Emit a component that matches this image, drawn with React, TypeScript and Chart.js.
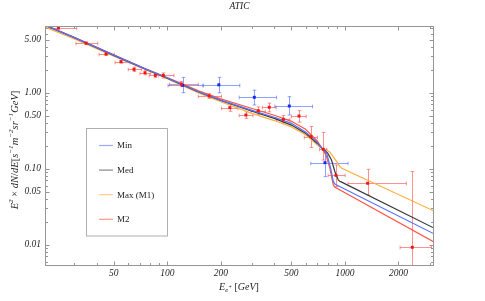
import React, { useEffect, useRef } from 'react';
import { Chart, registerables } from 'chart.js';

Chart.register(...registerables);

// ---------- text ----------
const titleText = 'ATIC';
const legendLabels = ['Min', 'Med', 'Max (M1)', 'M2'];

// ---------- axes ----------
const xMin = 20.5;
const xMax = 3130;
const xMajorTicks = [50, 100, 200, 500, 1000, 2000];
const xTickLabels = ['50', '100', '200', '500', '1000', '2000'];
const xMinorTicks = [30, 40, 60, 70, 80, 90, 300, 400, 600, 700, 800, 900, 3000];

const yMin = 0.0054;
const yMax = 7.55;
const yMajorTicks = [0.01, 0.05, 0.1, 0.5, 1, 5];
const yTickLabels = ['0.01', '0.05', '0.10', '0.50', '1.00', '5.00'];
const yMinorTicks = [0.006, 0.007, 0.008, 0.009, 0.02, 0.03, 0.04, 0.06, 0.07, 0.08, 0.09, 0.2, 0.3, 0.4, 0.6, 0.7, 0.8, 0.9, 2, 3, 4, 6, 7];

// ---------- model curves ----------
const minE = [20.5, 30, 50, 75, 100, 150, 200, 300, 400, 500, 600, 700, 740, 790, 831, 860, 880, 898, 3130];
const minF = [7.75, 5.3, 3.12, 2.06, 1.56, 1.03, 0.8, 0.585, 0.475, 0.395, 0.305, 0.222, 0.187, 0.158, 0.101, 0.0675, 0.0625, 0.061, 0.0141];

const medE = [20.5, 30, 50, 75, 100, 150, 200, 300, 400, 500, 600, 700, 740, 800, 840, 878, 917, 935, 946, 3130];
const medF = [7.7, 5.28, 3.1, 2.05, 1.55, 1.02, 0.79, 0.57, 0.46, 0.375, 0.292, 0.215, 0.188, 0.16, 0.13, 0.0913, 0.0712, 0.0685, 0.0675, 0.0168];

const maxE = [20.5, 30, 50, 75, 100, 150, 200, 300, 400, 500, 600, 700, 740, 790, 823, 860, 898, 937, 960, 3130];
const maxF = [7.3, 5.1, 3.03, 2.02, 1.53, 0.99, 0.76, 0.535, 0.43, 0.355, 0.28, 0.205, 0.186, 0.175, 0.165, 0.143, 0.124, 0.1065, 0.101, 0.0281];

const m2E = [20.5, 30, 50, 75, 100, 150, 200, 300, 400, 500, 600, 700, 740, 782, 823, 860, 876, 890, 3130];
const m2F = [7.8, 5.35, 3.15, 2.08, 1.58, 1.06, 0.83, 0.62, 0.505, 0.42, 0.33, 0.23, 0.187, 0.151, 0.101, 0.061, 0.0575, 0.056, 0.011];

// ---------- ATIC data (red) ----------
const aticE = [24.4, 34.9, 45.2, 54.9, 65.0, 74.9, 85.6, 95, 120, 172, 225, 277, 325, 375, 450, 551, 644, 755, 890, 1342, 2393];
const aticF = [7.17, 4.47, 3.23, 2.56, 2.03, 1.83, 1.69, 1.69, 1.3, 0.905, 0.635, 0.509, 0.58, 0.643, 0.447, 0.493, 0.264, 0.18, 0.0818, 0.0643, 0.00924];
const aticELo = [20, 30.6, 41.3, 50.8, 60.3, 70.2, 79.2, 89, 103, 149.5, 202, 254, 296, 343, 412, 500, 590, 720, 804, 1040, 2044];
const aticEHi = [30.9, 40.6, 50.3, 61.7, 71.7, 80.6, 95, 109, 149.5, 202, 250, 304, 356, 410, 490, 605, 700, 790, 1002, 2217, 3070];
const aticFLo = [6.8, 4.3, 3.1, 2.45, 1.9, 1.72, 1.58, 1.56, 1.2, 0.84, 0.57, 0.46, 0.52, 0.56, 0.4, 0.41, 0.19, 0.13, 0.058, 0.045, 0.004];
const aticFHi = [7.6, 4.65, 3.37, 2.68, 2.17, 1.95, 1.8, 1.82, 1.4, 0.97, 0.71, 0.56, 0.65, 0.73, 0.5, 0.58, 0.36, 0.3, 0.112, 0.098, 0.0916];

// ---------- second data set (blue) ----------
const blueE = [122, 195, 309, 486, 772];
const blueF = [1.25, 1.27, 0.87, 0.668, 0.12];
const blueELo = [101, 159, 254, 403, 642];
const blueEHi = [159, 256, 412, 657, 1041];
const blueFLo = [1.0, 1.0, 0.69, 0.509, 0.0787];
const blueFHi = [1.59, 1.59, 1.08, 0.886, 0.18];

const COL_MIN = 'rgb(85,115,255)';
const COL_MED = 'rgb(55,55,55)';
const COL_MAX = 'rgb(255,172,60)';
const COL_M2 = 'rgb(255,85,65)';

const SERIF = '"Liberation Serif", "DejaVu Serif", serif';

const toPts = (E: number[], F: number[]) => E.map((x, i) => ({ x, y: F[i] }));

const lineDs = (label: string, E: number[], F: number[], color: string) => ({
  type: 'line',
  label,
  data: toPts(E, F),
  borderColor: color,
  backgroundColor: color,
  borderWidth: 1.2,
  pointRadius: 0,
  fill: false,
  tension: 0,
  clip: 0,
  inLegend: true,
  order: 2,
});

const pointDs = (label: string, E: number[], F: number[], eLo: number[], eHi: number[], fLo: number[], fHi: number[], color: string, errColor: string) => ({
  type: 'scatter',
  label,
  data: toPts(E, F),
  pointStyle: 'rect',
  pointRadius: 2.1,
  borderWidth: 0,
  backgroundColor: color,
  showLine: false,
  errors: { eLo, eHi, fLo, fHi },
  errColor,
  order: 0,
});

type Seg = { t: string; mode?: 'sup' | 'sub' | 'subsup'; italic?: boolean };

function drawSegs(ctx: CanvasRenderingContext2D, segs: Seg[], x: number, y: number, size: number, measureOnly: boolean): number {
  let cx = x;
  for (const s of segs) {
    let fs = size;
    let dy = 0;
    if (s.mode === 'sup') { fs = size * 0.68; dy = -size * 0.42; }
    if (s.mode === 'sub') { fs = size * 0.68; dy = size * 0.25; }
    if (s.mode === 'subsup') { fs = size * 0.55; dy = -size * 0.05; }
    ctx.font = `${s.italic === false ? '' : 'italic '}${fs}px ${SERIF}`;
    if (!measureOnly) ctx.fillText(s.t, cx, y + dy);
    cx += ctx.measureText(s.t).width;
  }
  return cx - x;
}

const decorPlugin = {
  id: 'decor',
  beforeDatasetsDraw(chart: any) {
    const { ctx, chartArea: a, scales } = chart;
    const xs = scales.x;
    const ys = scales.y;
    ctx.save();
    ctx.beginPath();
    ctx.rect(a.left, a.top, a.right - a.left, a.bottom - a.top);
    ctx.clip();
    ctx.lineWidth = 1;
    chart.data.datasets.forEach((ds: any) => {
      if (!ds.errors) return;
      ctx.strokeStyle = ds.errColor;
      const er = ds.errors;
      ds.data.forEach((p: any, i: number) => {
        const px = Math.round(xs.getPixelForValue(p.x)) + 0.5;
        const py = Math.round(ys.getPixelForValue(p.y)) + 0.5;
        const x1 = xs.getPixelForValue(er.eLo[i]);
        const x2 = xs.getPixelForValue(er.eHi[i]);
        const y1 = ys.getPixelForValue(er.fLo[i]);
        const y2 = ys.getPixelForValue(er.fHi[i]);
        const c = 1.8;
        ctx.beginPath();
        ctx.moveTo(x1, py); ctx.lineTo(x2, py);
        ctx.moveTo(px, y1); ctx.lineTo(px, y2);
        ctx.moveTo(x1, py - c); ctx.lineTo(x1, py + c);
        ctx.moveTo(x2, py - c); ctx.lineTo(x2, py + c);
        ctx.moveTo(px - c, y1); ctx.lineTo(px + c, y1);
        ctx.moveTo(px - c, y2); ctx.lineTo(px + c, y2);
        ctx.stroke();
      });
    });
    ctx.restore();
  },
  afterDraw(chart: any) {
    const { ctx, chartArea: a, scales } = chart;
    const xs = scales.x;
    const ys = scales.y;
    ctx.save();
    // frame
    ctx.strokeStyle = 'rgb(150,150,150)';
    ctx.lineWidth = 1;
    const L = Math.round(a.left) + 0.5;
    const R = Math.round(a.right) + 0.5;
    const T = Math.round(a.top) + 0.5;
    const B = Math.round(a.bottom) + 0.5;
    ctx.strokeRect(L, T, R - L, B - T);
    ctx.beginPath();
    const xt = (v: number, len: number) => {
      const p = Math.round(xs.getPixelForValue(v)) + 0.5;
      ctx.moveTo(p, B); ctx.lineTo(p, B - len);
      ctx.moveTo(p, T); ctx.lineTo(p, T + len);
    };
    const yt = (v: number, len: number) => {
      const p = Math.round(ys.getPixelForValue(v)) + 0.5;
      ctx.moveTo(L, p); ctx.lineTo(L + len, p);
      ctx.moveTo(R, p); ctx.lineTo(R - len, p);
    };
    xMajorTicks.forEach(v => xt(v, 4));
    xMinorTicks.forEach(v => xt(v, 2.5));
    yMajorTicks.forEach(v => yt(v, 4));
    yMinorTicks.forEach(v => yt(v, 2.5));
    ctx.stroke();

    // legend box
    const bx = 86.5, by = 128.5, bw = 81, bh = 107.5;
    ctx.fillStyle = '#fff';
    ctx.fillRect(bx, by, bw, bh);
    ctx.strokeStyle = 'rgb(175,175,175)';
    ctx.strokeRect(bx, by, bw, bh);
    const items = chart.data.datasets.filter((d: any) => d.inLegend);
    items.forEach((d: any, i: number) => {
      const yy = 145.5 + i * 24.6;
      ctx.strokeStyle = d.borderColor;
      ctx.globalAlpha = 0.6;
      ctx.lineWidth = 1.2;
      ctx.beginPath();
      ctx.moveTo(99, yy); ctx.lineTo(113, yy);
      ctx.stroke();
      ctx.globalAlpha = 1;
      ctx.fillStyle = '#222';
      ctx.font = `9px ${SERIF}`;
      ctx.textAlign = 'left';
      ctx.textBaseline = 'middle';
      ctx.fillText(d.label, 117, yy + 0.5);
    });

    // title
    ctx.fillStyle = '#222';
    ctx.textBaseline = 'alphabetic';
    ctx.textAlign = 'center';
    ctx.font = `italic 9.5px ${SERIF}`;
    ctx.fillText(titleText, 239.5, 9);

    // x axis title
    ctx.textAlign = 'left';
    const xSegs: Seg[] = [
      { t: 'E' }, { t: 'e', mode: 'sub' }, { t: '+', mode: 'subsup' }, { t: ' [', italic: false }, { t: 'GeV' }, { t: ']', italic: false },
    ];
    const xw = drawSegs(ctx, xSegs, 0, 0, 10, true);
    drawSegs(ctx, xSegs, 239 - xw / 2, 289.5, 10, false);

    // y axis title (rotated)
    const ySegs: Seg[] = [
      { t: 'E' }, { t: '2', mode: 'sup' }, { t: ' \u00d7 ', italic: false }, { t: 'dN' }, { t: '/', italic: false }, { t: 'dE' },
      { t: '[', italic: false }, { t: 's' }, { t: '\u22121', mode: 'sup' }, { t: 'm' }, { t: '\u22122', mode: 'sup' },
      { t: 'sr' }, { t: '\u22121', mode: 'sup' }, { t: 'GeV' }, { t: ']', italic: false },
    ];
    ctx.translate(14, 150);
    ctx.rotate(-Math.PI / 2);
    const yw = drawSegs(ctx, ySegs, 0, 0, 10.5, true);
    drawSegs(ctx, ySegs, -yw / 2, 3.5, 10.5, false);
    ctx.restore();
  },
};

export default function App() {
  const ref = useRef<HTMLCanvasElement>(null);
  useEffect(() => {
    const canvas = ref.current;
    if (!canvas) return;
    const tickFont = { family: SERIF, style: 'italic' as const, size: 9.5 };
    const chart = new Chart(canvas, {
      type: 'line',
      data: {
        datasets: [
          pointDs('ATIC', aticE, aticF, aticELo, aticEHi, aticFLo, aticFHi, 'rgb(240,20,20)', 'rgba(255,70,70,0.6)'),
          pointDs('data', blueE, blueF, blueELo, blueEHi, blueFLo, blueFHi, 'rgb(20,40,240)', 'rgba(70,100,255,0.6)'),
          lineDs(legendLabels[0], minE, minF, COL_MIN),
          lineDs(legendLabels[1], medE, medF, COL_MED),
          lineDs(legendLabels[2], maxE, maxF, COL_MAX),
          lineDs(legendLabels[3], m2E, m2F, COL_M2),
        ] as any,
      },
      options: {
        responsive: false,
        animation: false,
        devicePixelRatio: 1,
        events: [],
        layout: { padding: { top: 26, right: 52, left: 0, bottom: 0 } },
        plugins: { legend: { display: false }, tooltip: { enabled: false }, title: { display: false } },
        scales: {
          x: {
            type: 'logarithmic',
            min: xMin,
            max: xMax,
            grid: { display: false, drawTicks: false },
            border: { display: false },
            afterBuildTicks: (s: any) => { s.ticks = xMajorTicks.map(v => ({ value: v })); },
            afterFit: (s: any) => { s.height = 36; },
            ticks: {
              autoSkip: false,
              maxRotation: 0,
              padding: 3,
              color: '#222',
              font: tickFont,
              callback: (v: any) => {
                const i = xMajorTicks.findIndex(t => Math.abs(t - v) < 1e-6 * t);
                return i >= 0 ? xTickLabels[i] : '';
              },
            },
          },
          y: {
            type: 'logarithmic',
            min: yMin,
            max: yMax,
            grid: { display: false, drawTicks: false },
            border: { display: false },
            afterBuildTicks: (s: any) => { s.ticks = yMajorTicks.map(v => ({ value: v })); },
            afterFit: (s: any) => { s.width = 45; },
            ticks: {
              autoSkip: false,
              padding: 4,
              color: '#222',
              font: tickFont,
              callback: (v: any) => {
                const i = yMajorTicks.findIndex(t => Math.abs(t - v) < 1e-6 * t);
                return i >= 0 ? yTickLabels[i] : '';
              },
            },
          },
        },
      } as any,
      plugins: [decorPlugin],
    });
    return () => chart.destroy();
  }, []);
  return (
    <div style={{ position: 'fixed', left: 0, top: 0, width: 485, height: 301, background: '#fff' }}>
      <canvas ref={ref} width={485} height={301} style={{ display: 'block', width: 485, height: 301 }} />
    </div>
  );
}
